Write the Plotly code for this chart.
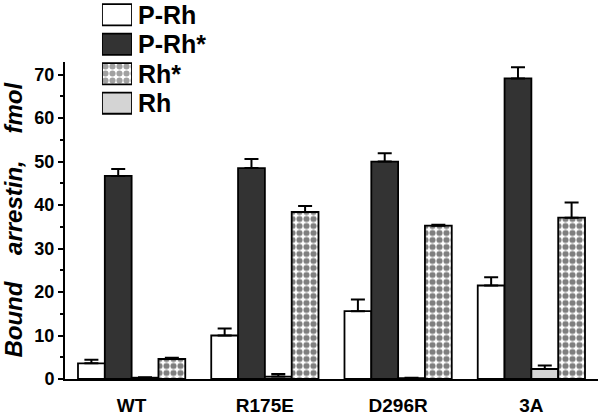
import plotly.graph_objects as go

categories = ["WT", "R175E", "D296R", "3A"]
series_names = ["P-Rh", "P-Rh*", "Rh", "Rh*"]
p_rh = [3.6, 10.0, 15.6, 21.5]
p_rh_err = [0.8, 1.6, 2.7, 1.9]
p_rh_star = [46.7, 48.5, 50.0, 69.1]
p_rh_star_err = [1.6, 2.1, 1.9, 2.6]
rh = [0.3, 0.55, 0.2, 2.3]
rh_err = [0.1, 0.6, 0.1, 0.8]
rh_star = [4.6, 38.4, 35.25, 37.1]
rh_star_err = [0.3, 1.4, 0.2, 3.5]
y_ticks = [0, 10, 20, 30, 40, 50, 60, 70]
legend_order = ["P-Rh", "P-Rh*", "Rh*", "Rh"]

values = [p_rh, p_rh_star, rh, rh_star]
errors = [p_rh_err, p_rh_star_err, rh_err, rh_star_err]

DARK = "#333333"
LIGHT = "#d4d4d4"
styles = {
    "P-Rh": dict(color="white", shape=""),
    "P-Rh*": dict(color=DARK, shape=""),
    "Rh": dict(color=LIGHT, shape=""),
    "Rh*": dict(color="white", shape="."),
}
FONT = "Liberation Sans, Arial, sans-serif"
PAT = dict(fgcolor="black", bgcolor="white", size=7, solidity=0.6, fillmode="overlay")

fig = go.Figure()
for name, vals, errs in zip(series_names, values, errors):
    st = styles[name]
    fig.add_trace(go.Bar(
        x=categories, y=vals, name=name,
        marker=dict(color=st["color"], line=dict(color="black", width=1.8),
                    pattern=dict(shape=st["shape"], **PAT)),
        error_y=dict(type="data", array=errs, arrayminus=[0] * len(errs), symmetric=False,
                     color="black", thickness=2, width=7),
        showlegend=False,
    ))

# custom legend drawn as bars on a small auxiliary axis pair
fig.add_trace(go.Bar(
    x=[1] * len(legend_order), y=legend_order, orientation="h",
    xaxis="x2", yaxis="y2", width=0.72,
    marker=dict(color=[styles[n]["color"] for n in legend_order],
                line=dict(color="black", width=1.8),
                pattern=dict(shape=[styles[n]["shape"] for n in legend_order], **PAT)),
    showlegend=False, hoverinfo="skip",
))
for n in legend_order:
    fig.add_annotation(x=1, y=n, xref="x2", yref="y2", text=n, showarrow=False,
                       xanchor="left", yanchor="middle", xshift=4,
                       font=dict(family=FONT, size=25, color="black", weight="bold"))

fig.update_layout(
    width=601, height=416,
    margin=dict(l=65, r=3, t=0, b=34),
    paper_bgcolor="white", plot_bgcolor="white",
    barmode="group", bargap=0.195, bargroupgap=0,
    font=dict(family=FONT, color="black"),
    xaxis=dict(range=[-0.5, 3.5], showline=True, linecolor="black", linewidth=2,
               ticks="", showgrid=False, zeroline=False,
               tickfont=dict(family=FONT, size=19, weight="bold"), ticklabelstandoff=8),
    yaxis=dict(domain=[0, 0.8377], range=[0, 73], showline=True, linecolor="black", linewidth=2,
               ticks="outside", ticklen=5, tickwidth=2, tickcolor="black",
               tickvals=y_ticks, showgrid=False, zeroline=False,
               minor=dict(dtick=5, ticks="outside", ticklen=3, tickwidth=2, tickcolor="black", showgrid=False),
               tickfont=dict(family=FONT, size=18, weight="bold"),
               title=dict(text="Bound\u00a0\u00a0\u00a0 arrestin,\u00a0\u00a0\u00a0 fmol", standoff=12,
                          font=dict(family=FONT, size=24, weight="bold", style="italic"))),
    xaxis2=dict(domain=[0.0694, 0.1257], range=[0, 1], anchor="y2", visible=False),
    yaxis2=dict(domain=[0.689, 1.0], range=[3.5, -0.5], anchor="x2", visible=False,
                type="category", categoryarray=legend_order, categoryorder="array"),
)

fig.write_html("out.html", config={"displayModeBar": False},
               post_script="document.body.style.margin='0';")
